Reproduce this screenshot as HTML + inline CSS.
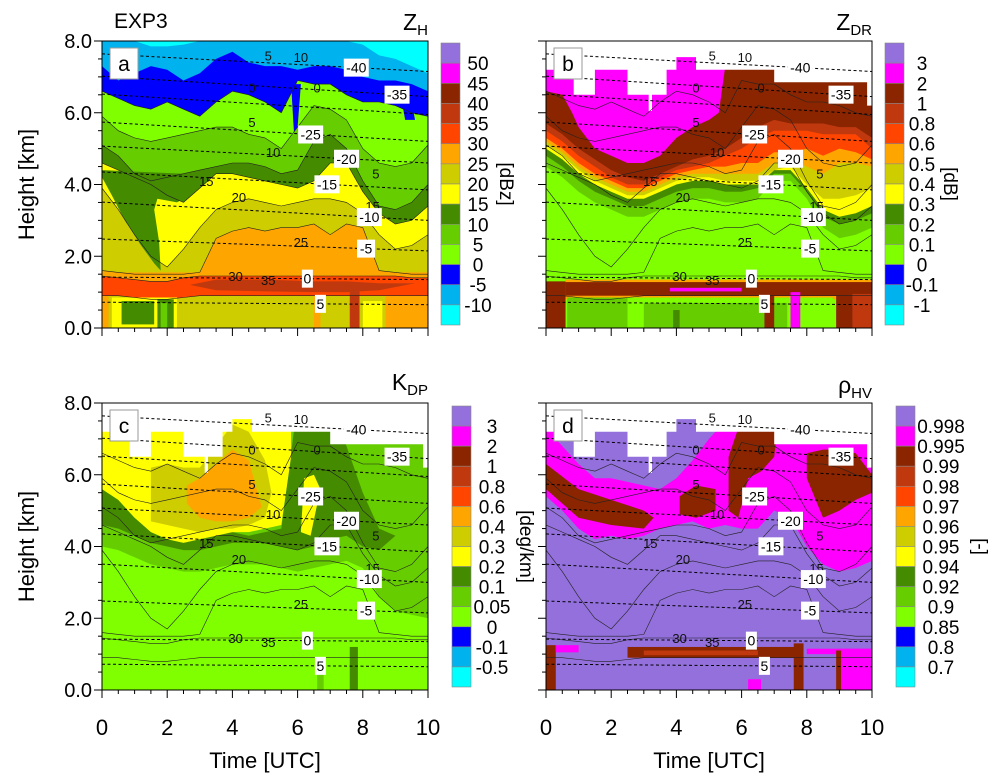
<!DOCTYPE html>
<html><head><meta charset="utf-8"><style>
html,body{margin:0;padding:0;background:#fff;}
svg{display:block;font-family:"Liberation Sans",sans-serif;}
</style></head><body>
<svg id="fig" width="989" height="781" viewBox="0 0 989 781" xmlns="http://www.w3.org/2000/svg">
<defs>
<clipPath id="clipA"><rect x="102" y="41" width="326" height="287"/></clipPath>
<clipPath id="clipB"><rect x="546" y="41" width="326" height="287"/></clipPath>
<clipPath id="clipC"><rect x="102" y="403" width="326" height="287"/></clipPath>
<clipPath id="clipD"><rect x="546" y="403" width="326" height="287"/></clipPath>
</defs>
<text x="114" y="28" font-size="21">EXP3</text>
</svg>
<script>
// ---------- palette (14 colour levels, top to bottom of the colourbar) ----------
const PURPLE='#9370DB',MAG='#FF00FF',BROWN='#8B2500',DOR='#C0390E',ORED='#FF4500',ORNG='#FFA500',OLIVE='#CDCD00',YEL='#FFFF00',DGRN='#458B00',MGRN='#66CD00',CHRT='#7FFF00',BLUE='#0000FF',SKY='#00B2EE',CYAN='#00FFFF';
const barColors=[PURPLE,MAG,BROWN,DOR,ORED,ORNG,OLIVE,YEL,DGRN,MGRN,CHRT,BLUE,SKY,CYAN];
const zhTicks=['50','45','40','35','30','25','20','15','10','5','0','-5','-10'];
const zdrTicks=['3','2','1','0.8','0.6','0.5','0.4','0.3','0.2','0.1','0','-0.1','-1'];
const kdpTicks=['3','2','1','0.8','0.6','0.4','0.3','0.2','0.1','0.05','0','-0.1','-0.5'];
const rhoTicks=['0.998','0.995','0.99','0.98','0.97','0.96','0.95','0.94','0.92','0.9','0.85','0.8','0.7'];

// ---------- time grid ----------
const T=[0,0.5,1,1.5,2,2.5,3,3.5,4,4.5,5,5.5,6,6.5,7,7.5,8,8.5,9,9.5,10];

// ---------- panel a (ZH) contour tops [km] ----------
const aSky   =[8.0,8.0,8.0,7.85,7.85,7.9,8.0,8.0,8.0,8.0,8.0,8.0,8.0,8.0,8.0,8.0,7.9,7.6,7.5,7.3,7.1];
const aBlue  =[7.3,6.9,7.1,7.3,7.2,6.9,7.1,7.5,7.7,7.4,7.3,7.3,7.2,7.3,7.3,7.2,7.0,6.9,6.9,6.8,6.6];
const aLgreen=[6.6,6.4,6.2,6.1,6.3,6.1,5.9,6.3,6.6,6.5,6.3,6.0,6.9,6.8,6.8,6.5,6.3,6.3,6.2,6.0,5.9];
const aMgreen=[5.9,5.5,5.3,5.2,5.3,5.4,5.5,5.6,5.6,5.4,5.3,5.0,5.6,6.2,6.1,5.8,5.0,4.6,4.5,4.6,5.1];
const aDgreen=[5.1,4.8,4.3,4.1,4.2,4.3,4.4,4.5,4.6,4.6,4.5,4.3,4.4,5.2,5.4,5.0,4.1,3.4,3.3,3.5,4.0];
const aYellow=[4.6,4.4,4.2,4.0,3.7,3.5,3.9,4.3,4.3,4.2,4.1,4.0,3.9,4.1,4.6,4.6,3.8,3.2,2.9,3.0,3.4];
const aOlive =[3.9,3.3,2.6,2.0,1.7,2.2,2.8,3.3,3.5,3.6,3.5,3.4,3.5,3.6,3.6,3.5,3.2,2.6,2.2,2.3,2.6];
const aOrange=[1.6,1.55,1.5,1.5,1.5,1.5,1.55,2.5,2.7,2.8,2.7,2.8,2.8,2.9,2.6,2.9,2.8,1.6,1.55,1.5,1.5];
const aBand  =[1.45,1.4,1.35,1.3,1.3,1.4,1.45,1.45,1.45,1.45,1.45,1.45,1.45,1.45,1.45,1.45,1.45,1.45,1.45,1.4,1.4];
const aBelow =[0.9,0.9,0.85,0.8,0.8,0.85,0.9,0.9,0.9,0.9,0.9,0.9,0.9,0.9,0.9,0.9,0.9,0.9,0.9,0.9,0.9];
const tongueT=[0,0.3,0.7,1.2,1.6,1.8,1.75,1.6,1.7,2.3,2.5,2.5,0];
const tongueH=[4.2,3.7,3.0,2.3,1.8,1.6,2.4,3.3,3.6,3.5,3.6,4.3,4.4];
const aCoreT=[2.7,3.5,5,6.5,7.5,8.5,9.6,8.5,7.5,6.5,5,3.5];
const aCoreH=[1.2,1.35,1.35,1.3,1.3,1.25,1.25,1.05,1.0,1.0,1.02,1.05];

// ---------- shared data top of polarimetric panels (step function) ----------
const stepT=[0,0.85,1.5,2.5,3.15,3.25,3.7,4.0,4.6,5.4,7.0,9.85];
const stepH=[7.2,6.5,7.2,6.5,6.05,6.5,7.2,7.55,7.2,7.2,6.85,6.2];

// ---------- panel b (ZDR) ----------
const bMagT=[0,0.5,0.8,1,1.5,2,2.5,3,3.5,4,4.5,5,5.3,5.5];
const bMagLo=[6.6,6.5,6.0,5.6,5.0,4.8,4.6,4.6,4.8,5.3,5.6,5.8,6.0,7.3];
const bDor  =[5.7,5.4,5.0,4.7,4.4,4.2,4.1,4.3,4.5,4.7,4.8,5.0,5.3,5.6,5.8,5.7,5.7,5.7,5.6,5.6,5.3];
const bOred =[5.5,5.2,4.8,4.5,4.2,4.0,4.0,4.2,4.4,4.5,4.6,4.8,5.0,5.3,5.5,5.5,5.5,5.4,5.4,5.4,5.0];
const bOrng =[5.3,5.0,4.6,4.3,4.1,3.9,3.9,4.1,4.3,4.4,4.5,4.5,4.6,4.6,4.9,4.9,5.0,4.8,5.0,4.9,4.7];
const bOlive=[5.2,4.9,4.5,4.2,4.0,3.8,3.8,4.0,4.2,4.3,4.3,4.3,4.3,4.3,4.6,4.7,4.5,4.3,4.6,4.6,4.5];
const bYel  =[5.1,4.8,4.4,4.1,3.9,3.7,3.7,3.9,4.1,4.2,4.2,4.1,4.1,4.1,4.4,4.5,4.0,3.6,3.6,3.7,3.9];
const bDgrn =[5.0,4.7,4.3,4.0,3.8,3.6,3.6,3.8,4.0,4.1,4.1,4.0,4.0,4.0,4.4,4.4,3.9,3.3,3.1,3.2,3.4];
const bMgrn =[4.8,4.5,4.1,3.8,3.6,3.4,3.4,3.6,3.8,3.9,3.9,3.8,3.8,3.9,4.3,4.3,3.8,3.1,2.9,3.0,3.2];
const bChrt =[4.5,4.2,3.8,3.5,3.3,3.1,3.1,3.3,3.5,3.6,3.6,3.5,3.5,3.6,4.1,4.1,3.6,2.8,2.5,2.6,2.8];

// ---------- panel c (KDP) ----------
const cMgrnLo=[4.0,3.9,3.7,3.5,3.4,3.3,3.3,3.4,3.5,3.5,3.5,3.4,3.3,3.4,3.5,3.6,3.4,2.6,2.2,2.1,2.0];
const cDgrnLo=[4.6,4.5,4.3,4.1,4.0,3.9,3.9,4.0,4.1,4.1,4.1,4.0,3.9,4.0,4.2,4.3,4.0,3.9,4.3,4.4,4.5];
const cDgrnHi=[5.6,5.3,4.8,4.6,4.4,4.2,4.3,4.4,4.4,4.3,4.4,4.5,8.0,8.0,8.0,6.8,5.5,4.5,4.3,4.4,4.5];
const cYelT=[0,0.5,1,1.5,2,2.5,3,3.5,4,4.5,5,5.5,5.8];
const cYelLo=[5.6,5.3,4.8,4.4,4.2,4.1,4.2,4.3,4.4,4.4,4.5,4.6,6.5];
const cOliveT=[1.5,2,2.5,3,3.5,4,4.5,5,5.2,5,4.5,4,3.5,3,2.5,2,1.5];
const cOliveH=[4.7,4.6,4.5,4.4,4.5,4.5,4.6,4.8,5.5,6.4,7.2,7.4,6.8,6.2,6.2,6.3,6.2];
const cOrngT=[2.6,3,3.5,4,4.5,4.9,4.5,4,3.5,3,2.6];
const cOrngH=[5.2,4.8,4.7,4.7,4.8,5.1,6.4,6.7,6.3,5.9,5.7];

// ---------- panel d (rhoHV) ----------
const dMagLo=[5.4,5.0,4.5,4.2,4.3,4.2,4.3,4.5,4.6,4.7,4.5,4.6,4.5,4.5,5.0,4.8,4.0,3.5,3.3,3.4,3.6];
const dPurT=[0.3,1,1.5,2,2.5,3,3.5,4,4.5,5,5.3];
const dPurLo=[7.0,6.3,5.9,5.9,5.8,5.7,5.6,5.9,6.4,7.0,7.3];
const dBrLeftT=[0,1,2,3,3.3,3,2,1,0];
const dBrLeftH=[5.6,4.8,4.6,4.5,4.8,5.0,5.3,5.6,6.3];
const dBrSmallT=[4.1,4.6,5.2,5.2,4.6,4.1];
const dBrSmallH=[4.9,4.8,5.0,5.6,5.7,5.4];
const dBrMidT=[5.6,5.9,6.2,6.6,7.0,7.1,7.0,6.6,6.2,5.9,5.6];
const dBrMidH=[5.0,4.8,5.9,6.1,6.5,7.3,7.3,7.3,7.3,7.3,6.5];
const dBrRightT=[8.0,8.5,9,9.5,10,10,9.5,9,8.5,8.0];
const dBrRightH=[5.9,4.8,5.0,5.3,5.5,6.0,6.6,6.7,6.7,6.6];

// ---------- isotherms ----------
const isoLeft =[7.64,7.02,6.52,5.74,5.07,4.35,3.51,2.48,1.42,0.72];
const isoRight=[7.15,6.45,5.95,5.20,4.60,3.85,3.00,2.15,1.35,0.65];
const isoLabels=['-40','-35','','-25','-20','-15','-10','-5','0','5'];
const isoLabelT=[7.8,9.05,0,6.4,7.5,6.9,8.2,8.1,6.3,6.7];
const zhLabels=['5','10','0','0','5','10','15','20','25','30','35','5','15'];
const zhLabelT=[5.1,6.1,4.6,6.6,4.6,5.25,3.2,4.2,6.1,4.1,5.1,8.4,8.3];
const zhLabelH=[7.6,7.55,6.7,6.7,5.74,4.9,4.1,3.65,2.4,1.45,1.34,4.3,3.4];

// ---------- helpers ----------
const NS='http://www.w3.org/2000/svg';
const svg=document.getElementById('fig');
function mk(tag,attrs,parent){const e=document.createElementNS(NS,tag);for(const k in attrs)e.setAttribute(k,attrs[k]);(parent||svg).appendChild(e);return e;}
function panel(x0,x1,y0,y1){return {x0,x1,y0,y1,X:t=>x0+t*(x1-x0)/10,Y:h=>y1-h*(y1-y0)/8};}
const P={a:panel(102,428,41,328),b:panel(546,872,41,328),c:panel(102,428,403,690),d:panel(546,872,403,690)};

function fillUp(g,p,color,t,hi,lo,name){
  let pts=[];
  for(let i=0;i<t.length;i++)pts.push(p.X(t[i]).toFixed(1)+','+p.Y(hi[i]).toFixed(1));
  for(let i=t.length-1;i>=0;i--)pts.push(p.X(t[i]).toFixed(1)+','+p.Y(lo?lo[i]:0).toFixed(1));
  const e=mk('polygon',{points:pts.join(' '),fill:color},g);
  
  
}
function poly(g,p,color,t,h,name){
  const pts=t.map((v,i)=>p.X(v).toFixed(1)+','+p.Y(h[i]).toFixed(1)).join(' ');
  const e=mk('polygon',{points:pts,fill:color},g);
  
  
}
function rect(g,p,color,t0,t1,h0,h1,name){
  const e=mk('rect',{x:p.X(t0),y:p.Y(h1),width:p.X(t1)-p.X(t0),height:p.Y(h0)-p.Y(h1),fill:color},g);
  
  
}
function whiteTop(g,p){
  let pts=[p.X(0)+','+p.y0];
  for(let i=0;i<stepT.length;i++){
    const tn=i+1<stepT.length?stepT[i+1]:10;
    pts.push(p.X(stepT[i]).toFixed(1)+','+p.Y(stepH[i]).toFixed(1));
    pts.push(p.X(tn).toFixed(1)+','+p.Y(stepH[i]).toFixed(1));
  }
  pts.push(p.X(10)+','+p.y0);
  const e=mk('polygon',{points:pts.join(' '),fill:'#fff'},g);
  
  
}
function line(g,p,t,h,attrs,name){
  const pts=t.map((v,i)=>p.X(v).toFixed(1)+','+p.Y(h[i]).toFixed(1)).join(' ');
  const e=mk('polyline',Object.assign({points:pts,fill:'none'},attrs),g);
  
  
}
function overlays(g,p){
  [aLgreen,aMgreen,aDgreen,aYellow,aOlive,aOrange,aBand,aBelow].forEach(arr=>{
    line(g,p,T,arr,{stroke:'#222','stroke-width':0.6},'zh-contour-line');
  });
  for(let i=0;i<isoLeft.length;i++){
    line(g,p,[0,10],[isoLeft[i],isoRight[i]],{stroke:'#000','stroke-width':1,'stroke-dasharray':'3,2.5'},'isotherm-line');
  }
  for(let i=0;i<zhLabels.length;i++){
    const e=mk('text',{x:p.X(zhLabelT[i]),y:p.Y(zhLabelH[i])+5,'font-size':13,'text-anchor':'middle',fill:'#111'},g);
    e.textContent=zhLabels[i];
    
    
  }
  for(let i=0;i<isoLabels.length;i++){
    if(!isoLabels[i])continue;
    const x=p.X(isoLabelT[i]),y=p.Y(isoLeft[i]+(isoRight[i]-isoLeft[i])*isoLabelT[i]/10);
    const w=isoLabels[i].length*7+4;
    const r=mk('rect',{x:x-w/2,y:y-9,width:w,height:18,fill:'#fff'},g);
    
    
    const e=mk('text',{x:x,y:y+5,'font-size':14,'text-anchor':'middle',fill:'#000'},g);
    e.textContent=isoLabels[i];
    
    
  }
}
function axes(p,letter,showY,showX){
  const g=mk('g',{});
  
  
  const fr=mk('rect',{x:p.x0,y:p.y0,width:p.x1-p.x0,height:p.y1-p.y0,fill:'none',stroke:'#000','stroke-width':1},g);
  
  
  for(let h=0;h<=8.001;h+=0.5){
    const maj=Math.abs(h%2)<0.01;
    const tk=mk('line',{x1:p.x0,x2:p.x0-(maj?8:4),y1:p.Y(h),y2:p.Y(h),stroke:'#000','stroke-width':1},g);
    
    
    if(maj&&showY){
      const e=mk('text',{x:p.x0-10,y:p.Y(h)+7,'font-size':20,'text-anchor':'end'},g);
      e.textContent=h.toFixed(1);
      
      
    }
  }
  for(let t=0;t<=10.001;t+=0.5){
    const maj=Math.abs(t%2)<0.01;
    const tk=mk('line',{x1:p.X(t),x2:p.X(t),y1:p.y1,y2:p.y1+(maj?8:4),stroke:'#000','stroke-width':1},g);
    
    
    if(maj&&showX){
      const e=mk('text',{x:p.X(t),y:p.y1+45,'font-size':22,'text-anchor':'middle'},g);
      e.textContent=String(Math.round(t));
      
      
    }
  }
  if(showY){
    const e=mk('text',{transform:`translate(${p.x0-68},${(p.y0+p.y1)/2}) rotate(-90)`,'font-size':22,'text-anchor':'middle'},g);
    e.textContent='Height [km]';
    
    
  }
  if(showX){
    const e=mk('text',{x:(p.x0+p.x1)/2,y:p.y1+78,'font-size':22,'text-anchor':'middle'},g);
    e.textContent='Time [UTC]';
    
    
  }
  const lb=mk('rect',{x:p.x0+8,y:p.y0+7,width:28,height:31,fill:'#fff',stroke:'#999','stroke-width':1},g);
  
  
  const lt=mk('text',{x:p.x0+22,y:p.y0+30,'font-size':21,'text-anchor':'middle'},g);
  lt.textContent=letter;
  
  
}
function colorbar(x,y0,y1,ticks,labelX,unit,unitX,key){
  const g=mk('g',{});
  
  
  const h=(y1-y0)/barColors.length;
  barColors.forEach((c,i)=>{
    const r=mk('rect',{x:x,y:y0+i*h,width:19,height:h,fill:c,stroke:'#888','stroke-width':0.6},g);
    
    
  });
  ticks.forEach((s,i)=>{
    const e=mk('text',{x:labelX,y:y0+(i+1)*h+7,'font-size':19,'text-anchor':'middle'},g);
    e.textContent=s;
    
    
  });
  const u=mk('text',{transform:`translate(${unitX},${(y0+y1)/2}) rotate(90)`,'font-size':19,'text-anchor':'middle'},g);
  u.textContent=unit;
  
  
}
function title(x,y,main,sub,key){
  const e=mk('text',{x:x,y:y,'font-size':23,'text-anchor':'end'});
  
  
  const t1=mk('tspan',{},e);t1.textContent=main;
  const t2=mk('tspan',{'font-size':15,dy:5},e);t2.textContent=sub;
}

// ---------- panel a ----------
{
  const p=P.a;const g=mk('g',{'clip-path':'url(#clipA)'});
  
  
  rect(g,p,CYAN,0,10,0,8,'zh-fill-cyan');
  fillUp(g,p,SKY,T,aSky,null,'zh-fill-m10');
  fillUp(g,p,BLUE,T,aBlue,null,'zh-fill-m5');
  fillUp(g,p,CHRT,T,aLgreen,null,'zh-fill-0');
  poly(g,p,BLUE,[5.8,5.9,6.0,6.1],[6.8,5.3,5.6,6.8],'zh-blue-notch');
  poly(g,p,BLUE,[9.2,9.5,9.6,9.3],[6.3,6.3,5.8,5.8],'zh-blue-patch');
  fillUp(g,p,MGRN,T,aMgreen,null,'zh-fill-5');
  fillUp(g,p,DGRN,T,aDgreen,null,'zh-fill-10');
  fillUp(g,p,YEL,T,aYellow,null,'zh-fill-15');
  fillUp(g,p,OLIVE,T,aOlive,null,'zh-fill-20');
  poly(g,p,DGRN,tongueT,tongueH,'zh-tongue');
  fillUp(g,p,ORNG,T,aOrange,null,'zh-fill-25');
  fillUp(g,p,ORNG,T,T.map(()=>1.55),null,'zh-bb-edge');
  fillUp(g,p,ORED,T,aBand,null,'zh-fill-30');
  poly(g,p,DOR,aCoreT,aCoreH,'zh-bb-core');
  fillUp(g,p,OLIVE,T,aBelow,null,'zh-fill-below');
  rect(g,p,ORNG,0,0.2,0,0.9,'zh-low-orange');
  rect(g,p,YEL,0.3,2.3,0,0.85,'zh-low-yellow');
  rect(g,p,DGRN,0.6,1.6,0.1,0.75,'zh-low-green');
  rect(g,p,DGRN,1.7,2.2,0,0.8,'zh-low-green2');
  rect(g,p,MGRN,1.8,2.0,0,0.7,'zh-low-green3');
  rect(g,p,ORNG,8.7,10,0,0.9,'zh-low-orange2');
  rect(g,p,YEL,8.0,8.6,0,0.75,'zh-low-yellow2');
  rect(g,p,DOR,7.6,7.9,0,1.2,'zh-core-column');
  rect(g,p,ORNG,6.5,6.7,0,0.9,'zh-column');
  overlays(g,p);
}
// ---------- panel b ----------
{
  const p=P.b;const g=mk('g',{'clip-path':'url(#clipB)'});
  
  
  rect(g,p,BROWN,0,10,0,8,'zdr-fill-1');
  fillUp(g,p,MAG,bMagT,bMagT.map(()=>8),bMagLo,'zdr-fill-2');
  fillUp(g,p,DOR,T,bDor,null,'zdr-fill-08');
  fillUp(g,p,ORED,T,bOred,null,'zdr-fill-06');
  fillUp(g,p,ORNG,T,bOrng,null,'zdr-fill-05');
  fillUp(g,p,OLIVE,T,bOlive,null,'zdr-fill-04');
  fillUp(g,p,YEL,T,bYel,null,'zdr-fill-03');
  fillUp(g,p,DGRN,T,bDgrn,null,'zdr-fill-02');
  fillUp(g,p,MGRN,T,bMgrn,null,'zdr-fill-01');
  fillUp(g,p,CHRT,T,bChrt,null,'zdr-fill-0');
  rect(g,p,ORNG,0.6,10,0.8,1.35,'zdr-bb-edge');
  rect(g,p,BROWN,0.6,10,0.9,1.28,'zdr-bb');
  rect(g,p,MAG,3.8,6.0,1.02,1.12,'zdr-bb-magenta');
  rect(g,p,BROWN,0,0.6,0,1.3,'zdr-low-brown');
  rect(g,p,MGRN,0.65,2.5,0,0.85,'zdr-low-green');
  rect(g,p,CHRT,2.5,8.8,0,0.85,'zdr-low-chart');
  rect(g,p,MGRN,3.0,7.4,0,0.7,'zdr-low-green2');
  rect(g,p,DGRN,3.9,4.1,0,0.5,'zdr-low-dgreen');
  rect(g,p,BROWN,6.7,7.0,0,0.9,'zdr-column');
  rect(g,p,MAG,7.5,7.8,0,1.0,'zdr-magenta-column');
  rect(g,p,BROWN,8.9,10,0,1.25,'zdr-low-brown2');
  rect(g,p,DOR,9.4,10,0,0.95,'zdr-low-dor');
  whiteTop(g,p);
  overlays(g,p);
}
// ---------- panel c ----------
{
  const p=P.c;const g=mk('g',{'clip-path':'url(#clipC)'});
  
  
  rect(g,p,CHRT,0,10,0,8,'kdp-fill-0');
  fillUp(g,p,MGRN,T,T.map(()=>8),cMgrnLo,'kdp-fill-005');
  fillUp(g,p,DGRN,T,cDgrnHi,cDgrnLo,'kdp-fill-01');
  fillUp(g,p,YEL,cYelT,cYelT.map(()=>8),cYelLo,'kdp-fill-02');
  poly(g,p,YEL,[6.1,6.4,6.7,6.5,6.2],[4.4,4.3,5.6,6.0,5.9],'kdp-yellow-patch');
  poly(g,p,OLIVE,cOliveT,cOliveH,'kdp-fill-03');
  poly(g,p,ORNG,cOrngT,cOrngH,'kdp-fill-04');
  rect(g,p,DGRN,7.6,7.85,0,1.2,'kdp-low-column');
  rect(g,p,MGRN,6.6,6.8,0,0.5,'kdp-low-column2');
  whiteTop(g,p);
  overlays(g,p);
}
// ---------- panel d ----------
{
  const p=P.d;const g=mk('g',{'clip-path':'url(#clipD)'});
  
  
  rect(g,p,PURPLE,0,10,0,8,'rho-fill-0998');
  fillUp(g,p,MAG,T,T.map(()=>8),dMagLo,'rho-fill-0995');
  fillUp(g,p,PURPLE,dPurT,dPurT.map(()=>8),dPurLo,'rho-upper-purple');
  poly(g,p,BROWN,dBrLeftT,dBrLeftH,'rho-fill-099-left');
  poly(g,p,BROWN,dBrSmallT,dBrSmallH,'rho-fill-099-small');
  poly(g,p,BROWN,dBrMidT,dBrMidH,'rho-fill-099-mid');
  poly(g,p,BROWN,dBrRightT,dBrRightH,'rho-fill-099-right');
  rect(g,p,BROWN,0,0.3,0,1.25,'rho-low-brown');
  rect(g,p,MAG,0.3,1.0,1.05,1.25,'rho-low-magenta');
  rect(g,p,BROWN,2.5,7.8,0.9,1.2,'rho-bb');
  rect(g,p,DOR,3.0,6.5,0.97,1.1,'rho-bb-core');
  rect(g,p,BROWN,7.6,7.9,0,1.3,'rho-column');
  rect(g,p,MAG,8.0,10,1.0,1.15,'rho-low-magenta2');
  rect(g,p,MAG,9.0,10,0,1.15,'rho-low-magenta3');
  rect(g,p,BROWN,8.9,9.05,0,1.1,'rho-column2');
  rect(g,p,MAG,6.2,6.6,0,0.3,'rho-low-magenta4');
  whiteTop(g,p);
  overlays(g,p);
}
axes(P.a,'a',true,false);
axes(P.b,'b',false,false);
axes(P.c,'c',true,true);
axes(P.d,'d',false,true);
colorbar(441,43,325,zhTicks,478,'[dBz]',500,'zh');
colorbar(885,43,325,zdrTicks,922,'[dB]',944,'zdr');
colorbar(452,406,687,kdpTicks,492,'[deg/km]',520,'kdp');
colorbar(896,406,687,rhoTicks,941,'[-]',974,'rhohv');
title(428,30,'Z','H','zh');
title(872,30,'Z','DR','zdr');
title(428,390,'K','DP','kdp');
title(872,393,'ρ','HV','rhohv');
</script>
</body></html>
